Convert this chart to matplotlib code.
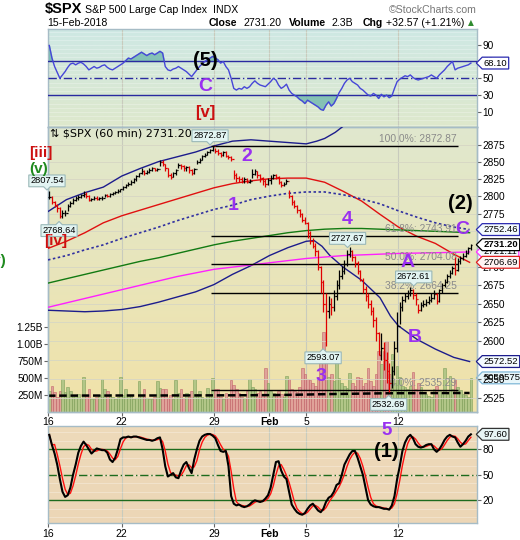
import numpy as np
import matplotlib
matplotlib.use('Agg')
import matplotlib.pyplot as plt
from matplotlib.path import Path
from matplotlib.ticker import FixedLocator, FixedFormatter, NullLocator

plt.rcParams['font.family'] = ['Liberation Sans', 'DejaVu Sans']

# ---------------- data: 60 min bars, 7 per session, 16-Jan-2018 .. 15-Feb-2018
tick_days = [0, 4, 9, 12, 14, 19]
tick_labels = ['16', '22', '29', 'Feb', '5', '12']

closes = sum([
    [2799, 2791, 2787, 2783, 2771, 2776, 2776.42],
    [2786, 2790, 2795, 2797, 2799, 2801, 2802.56],
    [2800, 2794, 2796, 2798, 2796, 2797, 2798.03],
    [2801, 2800, 2803, 2804, 2806, 2808, 2810.30],
    [2813, 2816, 2818, 2821, 2824, 2829, 2832.97],
    [2836, 2834, 2835, 2838, 2840, 2838, 2839.13],
    [2850, 2846, 2840, 2830, 2828, 2833, 2837.54],
    [2845, 2843, 2840, 2842, 2838, 2833, 2839.25],
    [2850, 2853, 2858, 2860, 2864, 2867, 2872.87],
    [2866, 2862, 2860, 2864, 2858, 2857, 2853.53],
    [2830, 2826, 2824, 2822, 2825, 2820, 2822.43],
    [2832, 2836, 2830, 2826, 2822, 2818, 2823.81],
    [2826, 2830, 2828, 2820, 2816, 2818, 2821.98],
    [2800, 2792, 2786, 2780, 2774, 2766, 2762.13],
    [2748, 2736, 2730, 2722, 2700, 2680, 2648.94],
    [2640, 2650, 2645, 2660, 2675, 2688, 2695.14],
    [2705, 2718, 2722, 2714, 2706, 2694, 2681.66],
    [2670, 2660, 2650, 2640, 2628, 2610, 2581.00],
    [2590, 2575, 2560, 2545, 2560, 2590, 2619.55],
    [2645, 2655, 2660, 2664, 2668, 2662, 2656.00],
    [2642, 2648, 2650, 2652, 2655, 2658, 2662.94],
    [2654, 2668, 2675, 2680, 2688, 2692, 2698.63],
    [2696, 2708, 2712, 2716, 2720, 2726, 2731.20]], [])
highs = sum([
    [2807.54, 2800, 2793, 2789, 2785, 2780, 2780],
    [2789, 2793, 2798, 2800, 2801, 2803, 2807.04],
    [2805.83, 2802, 2798, 2800, 2800, 2799, 2800],
    [2803, 2803, 2805, 2806, 2808, 2810, 2810.33],
    [2815, 2818, 2820, 2823, 2826, 2830, 2833.03],
    [2840, 2838, 2838, 2840, 2842.24, 2841, 2841],
    [2852.97, 2852, 2847, 2841, 2833, 2835, 2839],
    [2848.56, 2847, 2845, 2844, 2843, 2839, 2841],
    [2852, 2855, 2860, 2862, 2865, 2868, 2872.87],
    [2870.62, 2868, 2864, 2866, 2865, 2860, 2858],
    [2837.75, 2833, 2829, 2827, 2828, 2826, 2825],
    [2839.26, 2839, 2837, 2832, 2828, 2825, 2826],
    [2830, 2832.54, 2832, 2829, 2822, 2821, 2824],
    [2808.92, 2802, 2795, 2788, 2782, 2776, 2770],
    [2763.39, 2750, 2740, 2734, 2724, 2702, 2682],
    [2665, 2660, 2658, 2668, 2682, 2696, 2701.04],
    [2710, 2724, 2727.67, 2724, 2716, 2708, 2696],
    [2685.27, 2674, 2664, 2655, 2645, 2632, 2612],
    [2610, 2598, 2585, 2570, 2566, 2600, 2638.67],
    [2652, 2660, 2665, 2668, 2672.61, 2670, 2665],
    [2650, 2652, 2655, 2656, 2660, 2664, 2668.84],
    [2664, 2670, 2678, 2684, 2690, 2696, 2702.10],
    [2713.46, 2712, 2716, 2720, 2724, 2728, 2731.51]], [])
lows = sum([
    [2796, 2789, 2784, 2778, 2768.64, 2769, 2772],
    [2778.38, 2784, 2789, 2793, 2795, 2797, 2799],
    [2797, 2792.56, 2793, 2795, 2794, 2794, 2795],
    [2798.08, 2798.5, 2799, 2801, 2803, 2805, 2806],
    [2808.12, 2811, 2814, 2816, 2819, 2822, 2827],
    [2832, 2830.59, 2832, 2834, 2836, 2836, 2836],
    [2843, 2843, 2837, 2828, 2824.81, 2827, 2831],
    [2840, 2839, 2836, 2837, 2833, 2830.94, 2832],
    [2846.18, 2848, 2852, 2856, 2859, 2862, 2866],
    [2863, 2859, 2856, 2858, 2856, 2854, 2851.48],
    [2825, 2821, 2820, 2818.27, 2819, 2818.5, 2819],
    [2826, 2830, 2826, 2820, 2816, 2813.04, 2816],
    [2818, 2824, 2825, 2817, 2812.91, 2814, 2817],
    [2797, 2788, 2783, 2776, 2770, 2763, 2759.97],
    [2740, 2732, 2726, 2716, 2696, 2664, 2638.17],
    [2593.07, 2630, 2634, 2640, 2655, 2670, 2684],
    [2690, 2702, 2714, 2708, 2700, 2690, 2681.33],
    [2664, 2654, 2644, 2634, 2618, 2600, 2580.56],
    [2575, 2562, 2545, 2532.69, 2538, 2555, 2585],
    [2622.45, 2640, 2652, 2656, 2660, 2656, 2648],
    [2637.08, 2640, 2645, 2647, 2650, 2652, 2656],
    [2648.87, 2652, 2664, 2672, 2678, 2685, 2690],
    [2689.82, 2694, 2705, 2710, 2714, 2718, 2724]], [])
first_open = 2798.96

# volume in millions
volume = sum([
    [300, 385, 285, 210, 310, 490, 285],
    [370, 300, 220, 240, 265, 200, 520],
    [240, 330, 180, 190, 210, 250, 490],
    [340, 300, 265, 210, 190, 220, 520],
    [240, 330, 250, 250, 190, 200, 460],
    [240, 330, 200, 190, 190, 210, 460],
    [350, 330, 330, 200, 250, 180, 475],
    [280, 340, 200, 280, 210, 300, 490],
    [260, 310, 210, 200, 350, 240, 505],
    [330, 330, 210, 190, 270, 200, 475],
    [400, 330, 280, 210, 200, 300, 490],
    [360, 330, 280, 300, 250, 640, 430],
    [310, 280, 240, 300, 260, 220, 535],
    [480, 330, 300, 290, 360, 640, 560],
    [490, 470, 420, 380, 520, 714, 1180],
    [800, 520, 560, 450, 860, 500, 420],
    [380, 350, 565, 430, 380, 520, 500],
    [380, 420, 640, 450, 380, 560, 900],
    [700, 900, 1050, 560, 860, 420, 680],
    [520, 380, 360, 340, 380, 580, 330],
    [420, 360, 280, 260, 230, 210, 330],
    [380, 300, 280, 650, 260, 535, 330],
    [480, 360, 320, 260, 250, 210, 500]], [])

rsi = sum([
    [89, 74, 64, 57, 50, 54, 58], [63, 67, 68, 66, 68, 69, 67],
    [64, 60, 62, 64, 62, 63, 65], [66, 63, 61, 60, 62, 64, 66],
    [68, 71, 74, 73, 75, 77, 79], [81, 79, 77, 79, 80, 78, 80],
    [82, 80, 64, 60, 59, 61, 62], [64, 62, 60, 58, 55, 52, 56],
    [60, 64, 67, 70, 72, 74, 76], [74, 72, 68, 70, 64, 60, 50],
    [38, 36, 38, 37, 40, 38, 40], [44, 47, 44, 42, 41, 40, 43],
    [46, 50, 48, 42, 38, 40, 43], [36, 32, 30, 28, 25, 23, 20],
    [24, 22, 20, 18, 16, 13, 12], [18, 22, 17, 20, 26, 33, 38],
    [44, 48, 50, 46, 44, 42, 38], [36, 33, 30, 29, 32, 30, 26],
    [31, 28, 30, 27, 29, 38, 46], [49, 51, 53, 52, 54, 51, 49],
    [48, 49, 50, 51, 52, 54, 52], [50, 54, 57, 60, 64, 67, 70],
    [60, 62, 63, 64, 65, 66, 68.10]], [])

stoch_k = sum([
    [97, 85, 75, 62, 45, 30, 24], [26, 35, 50, 62, 76, 84, 89],
    [85, 80, 75, 78, 81, 80, 79], [79, 76, 68, 65, 70, 80, 92],
    [94, 94, 95, 94, 95, 95, 94], [93, 92, 91, 91, 90, 91, 93],
    [94, 80, 60, 48, 50, 52, 47], [46, 55, 62, 65, 58, 52, 68],
    [80, 90, 95, 97, 98, 98, 96], [93, 85, 78, 77, 78, 60, 25],
    [16, 14, 15, 13, 12, 13, 15], [18, 20, 19, 18, 19, 22, 26],
    [35, 50, 65, 66, 55, 48, 45], [30, 15, 10, 6, 4, 3, 5],
    [10, 14, 16, 12, 8, 6, 10], [18, 23, 25, 30, 38, 40, 50],
    [62, 68, 74, 78, 78, 70, 60], [50, 35, 20, 15, 13, 12, 12],
    [11, 10, 10, 9, 14, 25, 45], [60, 78, 88, 94, 97, 93, 86],
    [83, 82, 83, 85, 86, 86, 80], [77, 80, 85, 91, 95, 97, 95],
    [94, 88, 83, 86, 90, 95, 97.60]], [])

# overlay lines, sampled once per session
ma_idx = [0, 7, 14, 21, 28, 35, 42, 49, 56, 63, 70, 77, 84, 91, 98, 105,
          112, 119, 126, 133, 140, 147, 154, 160]
red_ma = [2726, 2736, 2748, 2762, 2772, 2780, 2788, 2796, 2804, 2812, 2818, 2822,
          2825, 2826, 2826, 2820, 2807, 2793, 2774, 2756, 2743, 2733, 2718, 2706.69]
dot_ma = [2710, 2716, 2724, 2731, 2740, 2748, 2756, 2765, 2773, 2781, 2787, 2795,
          2800, 2804, 2806, 2806, 2802, 2796, 2789, 2779, 2770, 2762, 2756, 2752.46]
green_ma = [2678, 2684, 2690, 2696, 2702, 2708, 2713, 2719, 2725, 2731, 2736, 2740,
            2744, 2748, 2751, 2753, 2754, 2754, 2753, 2752, 2751, 2750, 2749, 2748]
pink_ma = [2645, 2651, 2657, 2663, 2669, 2675, 2681, 2687, 2692, 2697, 2700, 2703,
           2706, 2709, 2712, 2714, 2716, 2717, 2718, 2719, 2719.5, 2720, 2720.5, 2721.11]
vol_ma = [235, 236, 237, 237, 238, 238, 238, 239, 239, 240, 241, 242,
          244, 247, 252, 258, 262, 266, 270, 272, 273, 274, 275, 275]
ubb_idx = [0, 7, 14, 21, 28, 35, 42, 49, 56, 63, 70, 77, 84, 91, 98, 102, 105,
           109, 112, 119, 126, 133, 140, 147, 154, 160]
ubb = [2778, 2795, 2805, 2813, 2829, 2840, 2850, 2857, 2864, 2873, 2880, 2882,
       2880, 2878, 2876, 2880, 2884, 2893, 2902, 2930, 2955, 2975, 2985, 2990, 2990, 2985]
lbb_idx = [0, 7, 14, 21, 28, 35, 42, 49, 56, 63, 70, 77, 84, 91, 98, 101, 104,
           107, 112, 119, 126, 130, 133, 140, 147, 154, 160]
lbb = [2641, 2640, 2639, 2640, 2642, 2646, 2652, 2659, 2666, 2676, 2690, 2702,
       2716, 2727, 2736, 2737, 2729, 2716, 2700, 2682, 2658, 2633, 2620, 2602,
       2589, 2578, 2572.52]

fib_hi, fib_lo = 2872.87, 2535.29
fib_pct = [100.0, 61.8, 50.0, 38.2, 0.0]
fib_start, fib_end = 62, 155.5

price_ticks = list(range(2525, 2900, 25))
vol_ticks = [250, 500, 750, 1000, 1250]
vol_tick_labels = ['250M', '500M', '750M', '1.00B', '1.25B']

# ---------------- figure
W, H = 520, 540
fig = plt.figure(figsize=(W / 100, H / 100), dpi=100)
fig.patch.set_facecolor('white')

def fx(x):
    return x / W

def fy(y):
    return 1 - y / H

L, R = 48, 476.7
ax_r = fig.add_axes([fx(L), fy(127), (R - L) / W, (127 - 29) / H])
ax_v = fig.add_axes([fx(L), fy(411.5), (R - L) / W, (411.5 - 127) / H])
ax_p = ax_v.twinx()
ax_s = fig.add_axes([fx(L), fy(523), (R - L) / W, (523 - 426) / H])

def gradient(ax, top, bottom):
    t = np.array(top) / 255.0
    b = np.array(bottom) / 255.0
    f = np.linspace(0, 1, 256)[:, None, None]
    img = t * (1 - f) + b * f
    ax.imshow(img, extent=[0, 1, 0, 1], transform=ax.transAxes, aspect='auto',
              zorder=0, interpolation='bilinear')

gradient(ax_r, (206, 232, 228), (222, 232, 204))
gradient(ax_v, (224, 232, 206), (241, 226, 168))
gradient(ax_s, (238, 218, 186), (236, 214, 182))

n = len(closes)
x = np.arange(n) + 0.5
closes_a = np.array(closes)
opens = np.r_[first_open, closes_a[:-1]]
up = closes_a >= opens
bar_col = np.where(up, '#000000', '#e00000')
xmax = 162.7
xt = [7 * d for d in tick_days]

spine_col = '#a6bcc6'
grid_col = '#c8cbbd'
for ax in (ax_r, ax_v, ax_s):
    ax.set_xlim(0, xmax)
    for t in xt:
        ax.axvline(t, color=grid_col, lw=0.8, zorder=1)
for ax in (ax_r, ax_v, ax_p, ax_s):
    for s in ax.spines.values():
        s.set_color(spine_col)
        s.set_linewidth(1.0)

# ---------------- RSI panel
for v in range(-5, 110, 5):
    ax_r.axhline(v, color='#ffffff', lw=0.4, alpha=0.45, zorder=1)
rsi_a = np.array(rsi)
ax_r.fill_between(x, rsi_a, 70, where=rsi_a > 70, interpolate=True, color='#6fb8ad', alpha=0.8, zorder=2)
ax_r.fill_between(x, rsi_a, 30, where=rsi_a < 30, interpolate=True, color='#6fb8ad', alpha=0.8, zorder=2)
ax_r.axhline(70, color='#2a2aa0', lw=1.0, zorder=3)
ax_r.axhline(30, color='#2a2aa0', lw=1.0, zorder=3)
ax_r.axhline(50, color='#2a2aa0', lw=1.0, ls=(0, (6, 2, 1, 2)), zorder=3)
ax_r.plot(x, rsi_a, color='#4646d8', lw=1.0, zorder=4)
ax_r.set_ylim(-7.9, 108.6)
ax_r.set_xticks(xt)
ax_r.tick_params(axis='x', length=0, labelbottom=False)
ax_r.yaxis.tick_right()
ax_r.set_yticks([10, 30, 50, 70, 90])
ax_r.tick_params(axis='y', labelsize=7.3, length=3, color='#666666', pad=1)

# ---------------- volume (under the price bars)
vol_fill = np.where(up, '#a3c07f', '#dc9296')
vol_edge = np.where(up, '#7f9f5a', '#c2646a')
ax_v.bar(x, volume, width=1.0, color=vol_fill, edgecolor=vol_edge, lw=0.5, alpha=0.8, zorder=2)
ax_v.plot(ma_idx, vol_ma, color='black', lw=1.8, ls=(0, (3, 1.5)), zorder=3)
ax_v.set_ylim(0, 4230)
ax_v.yaxis.set_major_locator(FixedLocator(vol_ticks))
ax_v.yaxis.set_major_formatter(FixedFormatter(vol_tick_labels))
ax_v.tick_params(axis='y', labelsize=7.3, length=3, color='#666666', pad=1)
ax_v.set_xticks(xt)
ax_v.set_xticklabels(tick_labels)
ax_v.tick_params(axis='x', labelsize=7.5, length=3, color='#666666', pad=1)
ax_v.get_xticklabels()[3].set_fontweight('bold')

# ---------------- price panel
ax_p.set_yscale('log')
ax_p.set_ylim(2507.5, 2900.97)
ax_p.set_xlim(0, xmax)
ax_p.yaxis.set_major_locator(FixedLocator(price_ticks))
ax_p.yaxis.set_major_formatter(FixedFormatter([str(p) for p in price_ticks]))
ax_p.yaxis.set_minor_locator(NullLocator())
ax_p.tick_params(axis='y', labelsize=7.3, length=3, color='#666666', pad=1)
for p in price_ticks:
    ax_p.axhline(p, color='#d6d6c4', lw=0.6, zorder=1)

ax_p.plot(ubb_idx, ubb, color='#1c1c8c', lw=1.0, zorder=3)
ax_p.plot(lbb_idx, lbb, color='#1c1c8c', lw=1.0, zorder=3)
ax_p.plot(ma_idx, red_ma, color='#e01010', lw=1.0, zorder=3)
ax_p.plot(ma_idx, dot_ma, color='#3030a0', lw=1.2, ls=(0, (1.5, 1.5)), zorder=3)
ax_p.plot(ma_idx, green_ma, color='#127a12', lw=1.0, zorder=3)
ax_p.plot(ma_idx, pink_ma, color='#ff20ff', lw=1.0, zorder=3)

for pct in fib_pct:
    lvl = fib_lo + pct / 100 * (fib_hi - fib_lo)
    ax_p.hlines(lvl, fib_start, fib_end, color='black', lw=1.0, zorder=3)
    ax_p.annotate(f'{pct:.1f}%: {lvl:.2f}', xy=(fib_end - 0.5, lvl), xytext=(0, 1.5),
                  textcoords='offset points', ha='right', va='bottom',
                  fontsize=7.4, color='#8a8a8a', zorder=4)

ax_p.vlines(x, lows, highs, colors=bar_col, lw=0.9, zorder=5)
ax_p.hlines(opens, x - 0.5, x, colors=bar_col, lw=0.9, zorder=5)
ax_p.hlines(closes_a, x, x + 0.5, colors=bar_col, lw=0.9, zorder=5)

# ---------------- stochastics panel
for v in range(0, 110, 10):
    ax_s.axhline(v, color='#ffffff', lw=0.4, alpha=0.5, zorder=1)
k = np.array(stoch_k)
d = np.convolve(k, np.ones(3) / 3, mode='full')[:n]
d[:2] = k[:2]
ax_s.axhline(80, color='#1d6b1d', lw=1.0, zorder=2)
ax_s.axhline(20, color='#1d6b1d', lw=1.0, zorder=2)
ax_s.axhline(50, color='#1d6b1d', lw=1.0, ls=(0, (6, 2, 1, 2)), zorder=2)
ax_s.plot(x, d, color='#ff1010', lw=1.0, zorder=3)
ax_s.plot(x, k, color='black', lw=1.5, zorder=4)
ax_s.set_ylim(-6.7, 107.4)
ax_s.yaxis.tick_right()
ax_s.set_yticks([20, 50, 80])
ax_s.tick_params(axis='y', labelsize=7.3, length=3, color='#666666', pad=1)
ax_s.set_xticks(xt)
ax_s.set_xticklabels(tick_labels)
ax_s.tick_params(axis='x', labelsize=7.5, length=3, color='#666666', pad=1)
ax_s.get_xticklabels()[3].set_fontweight('bold')

# ---------------- label boxes
def callout(point):
    def box(x0, y0, width, height, mutation_size):
        pad = 0.15 * mutation_size
        x0, y0 = x0 - pad, y0 - pad
        x1, y1 = x0 + width + 2 * pad, y0 + height + 2 * pad
        xm, t = (x0 + x1) / 2, 0.35 * mutation_size
        if point == 'down':
            v = [(x0, y0), (x0, y1), (x1, y1), (x1, y0), (xm + t, y0), (xm, y0 - t), (xm - t, y0), (x0, y0)]
        elif point == 'up':
            v = [(x0, y0), (x0, y1), (xm - t, y1), (xm, y1 + t), (xm + t, y1), (x1, y1), (x1, y0), (x0, y0)]
        else:
            ym = (y0 + y1) / 2
            v = [(x0 - (y1 - y0) / 2, ym), (x0, y1), (x1, y1), (x1, y0), (x0, y0), (x0 - (y1 - y0) / 2, ym)]
        return Path(v, closed=True)
    return box

def price_box(ax, xb, yb, txt, point):
    ax.text(xb, yb, txt, ha='center', va='center', fontsize=6.7, zorder=8,
            bbox=dict(boxstyle=callout(point), fc='#e2f4f2', ec='#9ab8b8', lw=0.8))

price_box(ax_p, -0.4, 2822, '2807.54', 'down')
price_box(ax_p, 4.2, 2751, '2768.64', 'up')
price_box(ax_p, 61.5, 2888, '2872.87', 'down')
price_box(ax_p, 113.7, 2740, '2727.67', 'down')
price_box(ax_p, 138.8, 2686.5, '2672.61', 'down')
price_box(ax_p, 104.4, 2577.4, '2593.07', 'up')
price_box(ax_p, 129.3, 2516.5, '2532.69', 'up')

def tag(ax, yv, txt, ec, fc='#f4fbff', bold=False):
    ax.annotate(txt, xy=(1, yv), xycoords=('axes fraction', 'data'), xytext=(5, 0),
                textcoords='offset points', ha='left', va='center', fontsize=6.8,
                fontweight='bold' if bold else 'normal', annotation_clip=False, zorder=10,
                bbox=dict(boxstyle=callout('left'), fc=fc, ec=ec, lw=0.9))

tag(ax_p, 2752.46, '2752.46', '#2a2ab0')
tag(ax_p, 2721.11, '2721.11', '#ff30ff')
tag(ax_p, 2731.20, '2731.20', 'black', fc='white', bold=True)
tag(ax_p, 2706.69, '2706.69', '#e02020', fc='#fff4f4')
tag(ax_p, 2572.52, '2572.52', '#1c1c8c')
tag(ax_v, volume[-1], '5059575', '#80b8d8', fc='#e8f6fa')
tag(ax_r, rsi[-1], '68.10', '#2a2ab0', fc='white')
tag(ax_s, stoch_k[-1], '97.60', '#333333', fc='#e8f6f6')

# ---------------- wave labels
purple = '#9a30f0'
for txt, bx, py in [('1', 70.1, 2787), ('2', 75.6, 2858), ('3', 103.7, 2553), ('4', 113.4, 2767),
                    ('A', 136.3, 2706), ('B', 139.3, 2605), ('C', 157.2, 2752)]:
    ax_p.text(bx, py, txt, ha='center', va='center', fontsize=14, fontweight='bold',
              color=purple, zorder=9)
ax_p.text(156.4, 2790, '(2)', ha='center', va='center', fontsize=14.5, fontweight='bold', zorder=9)
ax_p.text(-2.8, 2863, '[iii]', ha='center', va='center', fontsize=11, fontweight='bold',
          color='#cc1010', zorder=9, clip_on=False)
ax_p.text(-3.7, 2838.5, '(v)', ha='center', va='center', fontsize=11, fontweight='bold',
          color='#1f8a1f', zorder=9, clip_on=False)
ax_p.text(3.1, 2736.4, '[iv]', ha='center', va='center', fontsize=11, fontweight='bold',
          color='#cc1010', zorder=9)
fig.text(fx(-3), fy(261), '(v)', ha='center', va='center', fontsize=11, fontweight='bold',
         color='#1f8a1f')

ax_r.text(59.6, 71.7, '(5)', ha='center', va='center', fontsize=14.5, fontweight='bold', zorder=9)
ax_r.text(59.6, 40, 'C', ha='center', va='center', fontsize=14, fontweight='bold', color=purple, zorder=9)
ax_r.text(59.6, 9.4, '[v]', ha='center', va='center', fontsize=12, fontweight='bold',
          color='#cc1010', zorder=9)

ax_s.text(128.5, 102, '5', ha='center', va='center', fontsize=13.5, fontweight='bold',
          color=purple, zorder=9, clip_on=False)
ax_s.text(128.3, 77.4, '(1)', ha='center', va='center', fontsize=14.5, fontweight='bold', zorder=9)

# ---------------- header texts
ax_p.text(0.005, 0.978, '\u21c5 $SPX (60 min) 2731.20', transform=ax_p.transAxes, ha='left',
          va='center', fontsize=8, family='DejaVu Sans', zorder=9)
fig.text(fx(45), fy(9.5), '$SPX', ha='left', va='center', fontsize=10.5, fontweight='bold')
fig.text(fx(85), fy(10), 'S&P 500 Large Cap Index', ha='left', va='center', fontsize=7.6)
fig.text(fx(213), fy(10), 'INDX', ha='left', va='center', fontsize=7.6)
fig.text(fx(477), fy(10), '\u00a9StockCharts.com', ha='right', va='center', fontsize=7.6, color='#777777')
fig.text(fx(47), fy(22.5), '15-Feb-2018', ha='left', va='center', fontsize=7.6)
for txt, xp, bold in [('Close', 209, True), ('2731.20', 243, False), ('Volume', 289, True),
                      ('2.3B', 332, False), ('Chg', 363, True), ('+32.57 (+1.21%)', 386, False)]:
    fig.text(fx(xp), fy(22.5), txt, ha='left', va='center', fontsize=7.6,
             fontweight='bold' if bold else 'normal')
fig.text(fx(468), fy(22.5), '\u25b2', ha='left', va='center', fontsize=5.5, color='#2e8b2e',
         family='DejaVu Sans')

fig.savefig('out.png', dpi=100)
